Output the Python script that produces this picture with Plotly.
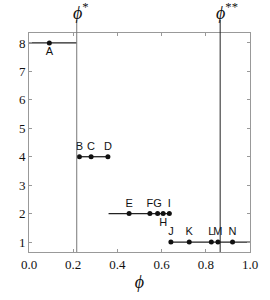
import plotly.graph_objects as go

# Data
labels = ["A", "B", "C", "D", "E", "F", "G", "H", "I", "J", "K", "L", "M", "N"]
phi_vals = [0.092, 0.228, 0.281, 0.357, 0.453, 0.547, 0.582, 0.607, 0.635,
            0.642, 0.725, 0.825, 0.855, 0.921]
level_vals = [8, 4, 4, 4, 2, 2, 2, 2, 2, 1, 1, 1, 1, 1]
label_pos = ["bottom center", "top center", "top center", "top center",
             "top center", "top center", "top center", "bottom center", "top center",
             "top center", "top center", "top center", "top center", "top center"]

# horizontal segments: (x0, x1, y)
seg_x0 = [0.0, 0.228, 0.36, 0.642]
seg_x1 = [0.216, 0.357, 0.635, 1.0]
seg_y = [8, 4, 2, 1]

phi_star = 0.216
phi_2star = 0.865

x_ticks = [0.0, 0.2, 0.4, 0.6, 0.8, 1.0]
x_tick_text = ["0.0", "0.2", "0.4", "0.6", "0.8", "1.0"]
y_ticks = [1, 2, 3, 4, 5, 6, 7, 8]

SERIF = "Liberation Serif"
SANS = "Liberation Sans"

fig = go.Figure()

for x0, x1, y in zip(seg_x0, seg_x1, seg_y):
    fig.add_trace(go.Scatter(x=[x0, x1], y=[y, y], mode="lines",
                             line=dict(color="#222222", width=1.3),
                             hoverinfo="skip", showlegend=False, cliponaxis=False))

fig.add_trace(go.Scatter(x=phi_vals, y=level_vals, mode="markers+text",
                         text=labels, textposition=label_pos,
                         textfont=dict(family=SANS, size=11, color="#111"),
                         marker=dict(color="#111", size=5),
                         showlegend=False, cliponaxis=False))

fig.add_shape(type="line", xref="x", yref="paper", x0=phi_star, x1=phi_star,
              y0=0, y1=1.06, line=dict(color="#777777", width=1))
fig.add_shape(type="line", xref="x", yref="paper", x0=phi_2star, x1=phi_2star,
              y0=0, y1=1.06, line=dict(color="#222222", width=1))

fig.add_annotation(x=phi_star, y=1.1, xref="x", yref="paper", xanchor="center",
                   yanchor="middle", xshift=4, showarrow=False,
                   text="<i>ϕ</i><sup>*</sup>",
                   font=dict(family=SERIF, size=18, color="#111"))
fig.add_annotation(x=phi_2star, y=1.1, xref="x", yref="paper", xanchor="center",
                   yanchor="middle", xshift=7, showarrow=False,
                   text="<i>ϕ</i><sup>**</sup>",
                   font=dict(family=SERIF, size=18, color="#111"))

axis_common = dict(showline=True, linecolor="#999999", linewidth=1, mirror="ticks",
                   ticks="inside", ticklen=3, tickcolor="#999999", showgrid=False,
                   zeroline=False, tickfont=dict(family=SERIF, size=13, color="#111"))

fig.update_xaxes(range=[0, 1], tickvals=x_ticks, ticktext=x_tick_text,
                 title=dict(text="<i>ϕ</i>", font=dict(family=SERIF, size=18, color="#111"),
                            standoff=4),
                 **axis_common)
fig.update_yaxes(range=[0.65, 8.35], tickvals=y_ticks, **axis_common)

fig.update_layout(width=270, height=300, margin=dict(l=29, r=13, t=33, b=37),
                  plot_bgcolor="white", paper_bgcolor="white",
                  font=dict(family=SERIF, color="#111"))

fig.write_html("out.html", config={"displayModeBar": False},
               post_script="document.body.style.margin='0';document.body.style.overflow='hidden';")
